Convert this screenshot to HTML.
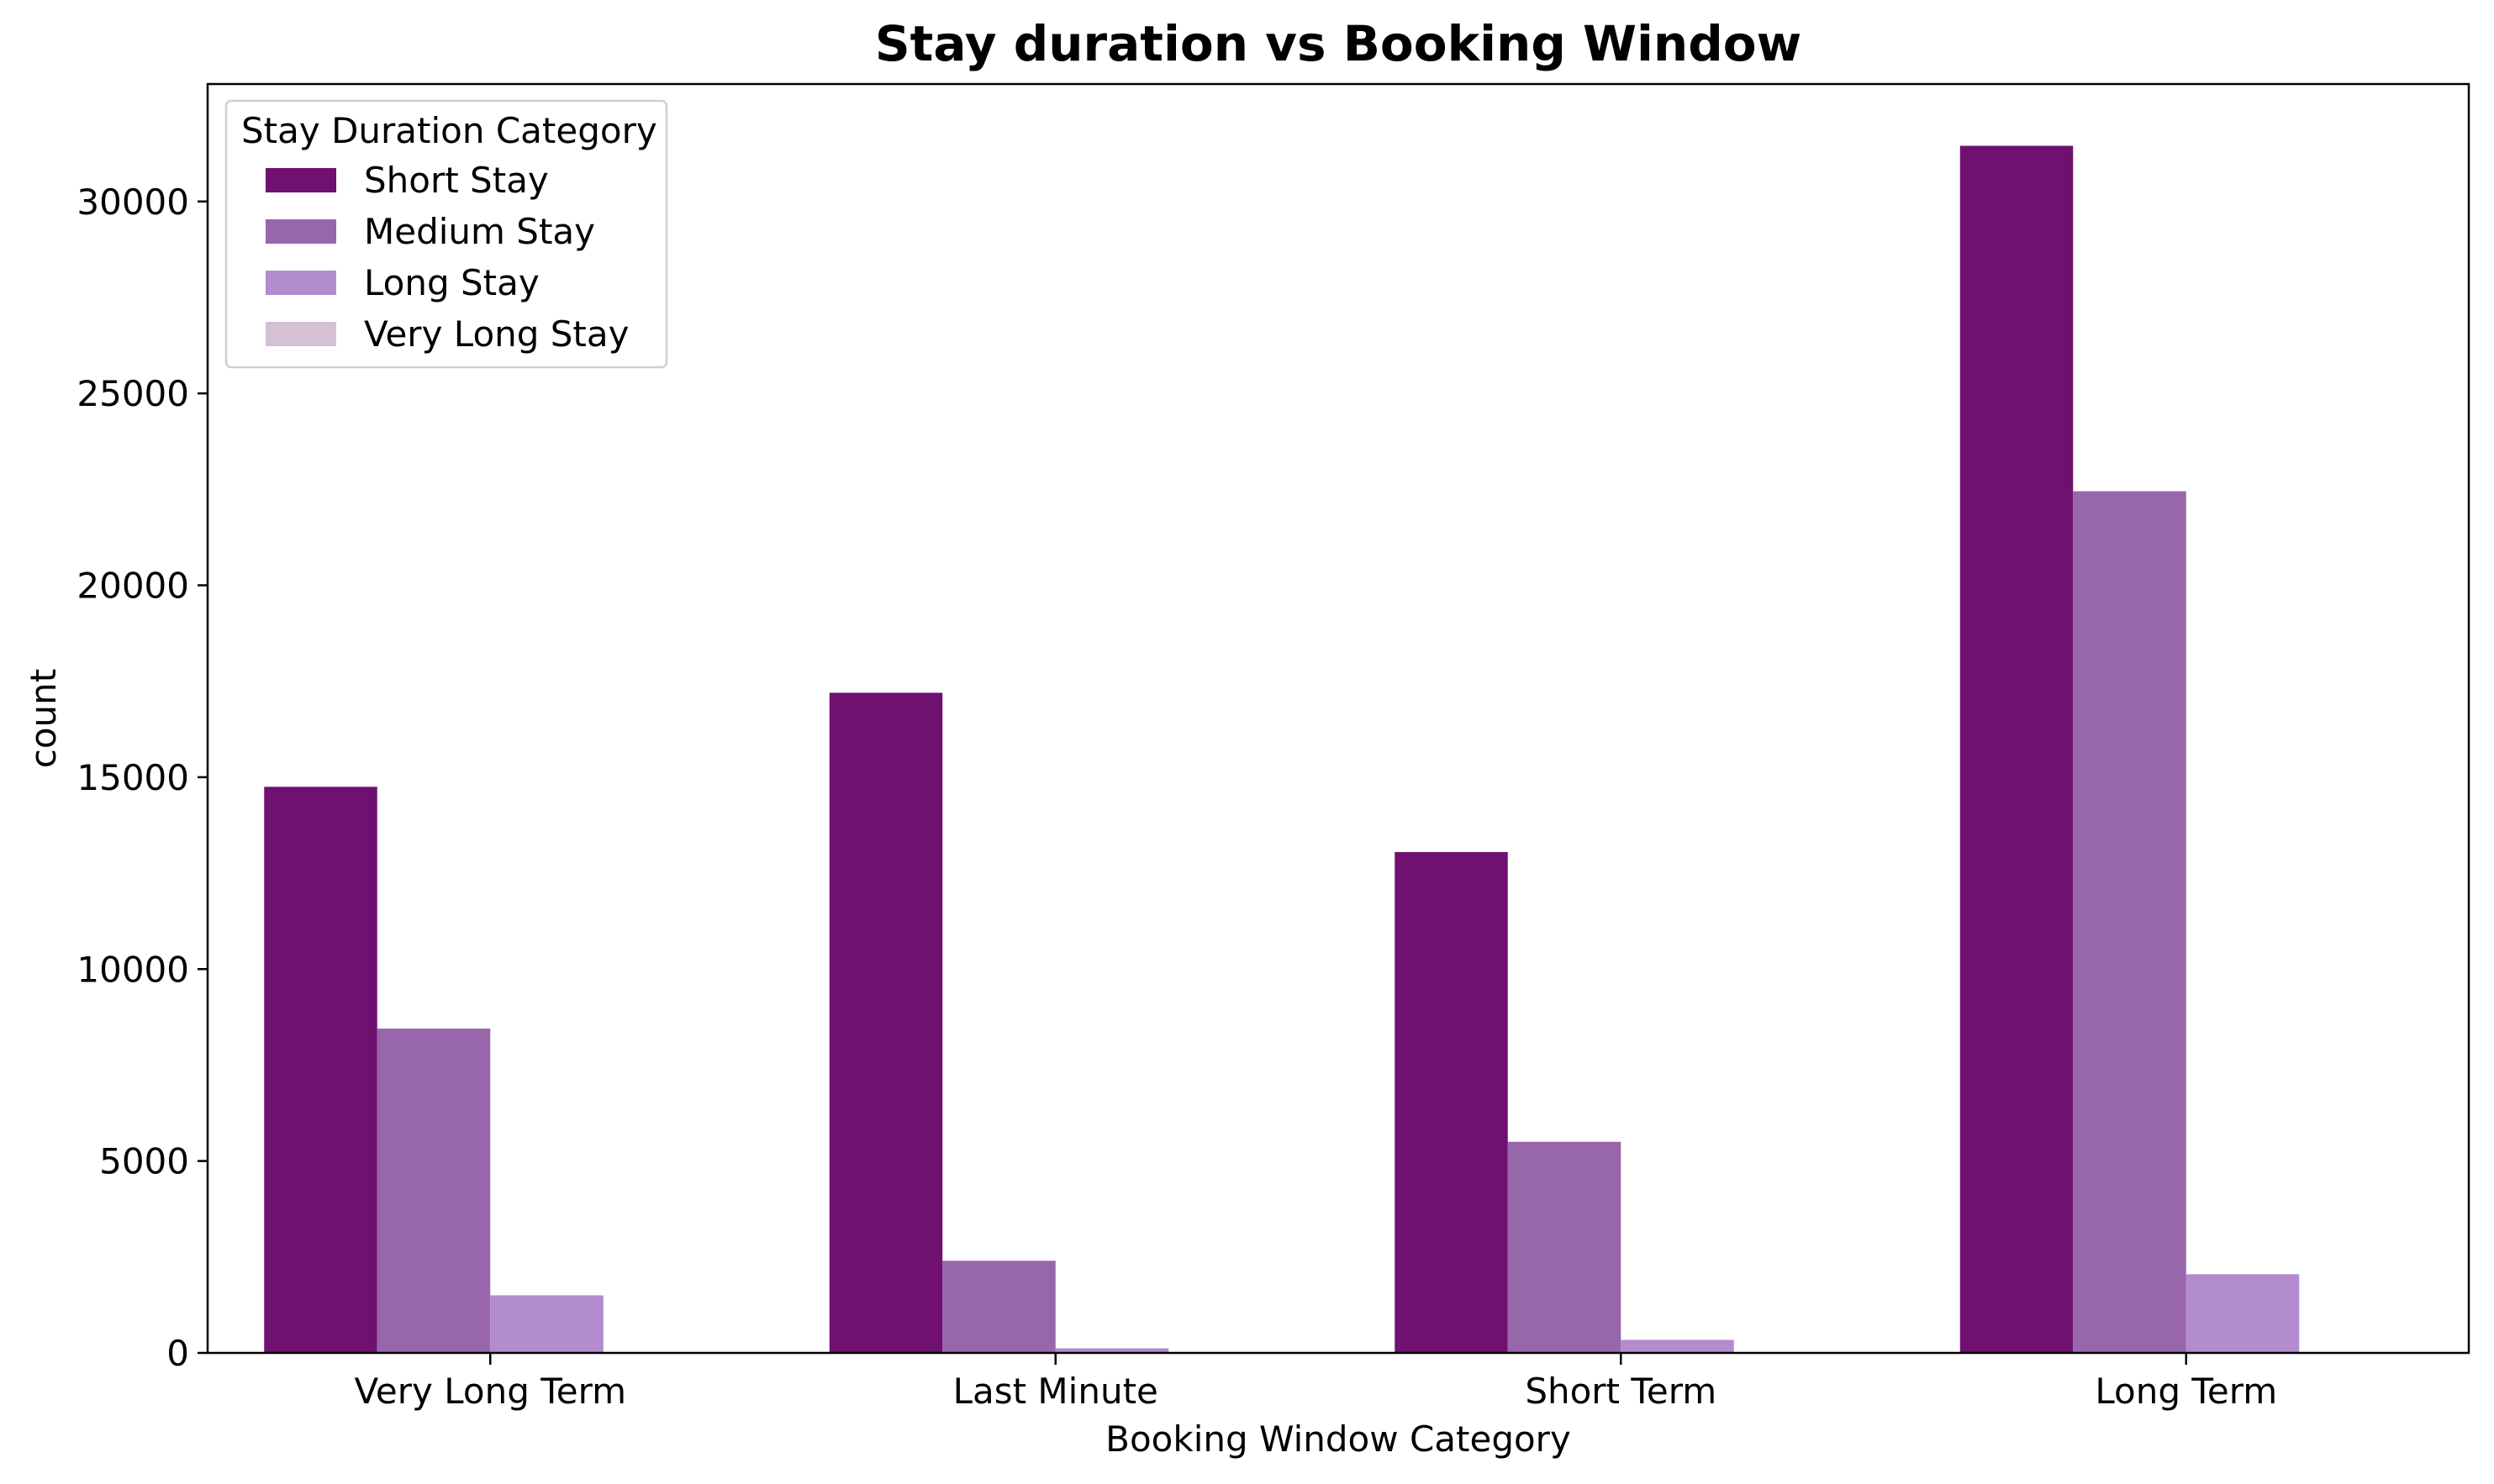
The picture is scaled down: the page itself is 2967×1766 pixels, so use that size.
<!DOCTYPE html>
<html><head><meta charset="utf-8"><style>
html,body{margin:0;padding:0;background:#fff;}
svg{display:block;font-family:"DejaVu Sans","Liberation Sans",sans-serif;}
</style></head><body>
<svg id="chart" width="2967" height="1766" viewBox="0 0 2967 1766" xmlns="http://www.w3.org/2000/svg">
<rect width="2967" height="1766" fill="#fff"/>
<text x="1592" y="72" text-anchor="middle" font-size="58" font-weight="bold">Stay duration vs Booking Window</text>
<g id="bars"></g>
<g id="axes"></g>
<text transform="translate(66,855) rotate(-90)" text-anchor="middle" font-size="42">count</text>
<text x="1592" y="1727" text-anchor="middle" font-size="42">Booking Window Category</text>
<g id="legend"></g>
</svg>
<script>
const categories = ["Very Long Term","Last Minute","Short Term","Long Term"];
const seriesNames = ["Short Stay","Medium Stay","Long Stay","Very Long Stay"];
const shortStay = [14750,17200,13050,31450];
const mediumStay = [8450,2400,5500,22450];
const longStay = [1500,120,340,2050];
const veryLongStay = [0,0,0,0];
const yTicks = [0,5000,10000,15000,20000,25000,30000];
const colors = ["#701070","#9866aa","#b38bcf","#d5c0d5"];
const series = [shortStay,mediumStay,longStay,veryLongStay];

const L=247,R=2937,T=100,B=1610,YMAX=33060;
const NS="http://www.w3.org/2000/svg";
function y(v){return B-(v/YMAX)*(B-T);}
function xc(i){return L+(i+0.5)*(R-L)/categories.length;}
const catW=(R-L)/categories.length, barW=catW*0.8/series.length;
function mk(tag,attrs,parent){const e=document.createElementNS(NS,tag);for(const k in attrs)e.setAttribute(k,attrs[k]);parent.appendChild(e);return e;}
const gb=document.getElementById('bars');
series.forEach((s,si)=>{s.forEach((v,ci)=>{
  const x0=xc(ci)-catW*0.4+si*barW;
  const r=mk('rect',{x:x0,y:y(v),width:barW,height:B-y(v),fill:colors[si]},gb);
  
  
});});
const ga=document.getElementById('axes');
yTicks.forEach(t=>{
  const l=mk('line',{x1:L-12,x2:L,y1:y(t),y2:y(t),stroke:'#000','stroke-width':2.5},ga);
  
  
  const tx=mk('text',{x:L-22,y:y(t)+15,'text-anchor':'end','font-size':'42'},ga);
  tx.textContent=t;
  
  
});
categories.forEach((c,i)=>{
  const l=mk('line',{x1:xc(i),x2:xc(i),y1:B,y2:B+14,stroke:'#000','stroke-width':2.5},ga);
  
  
  const tx=mk('text',{x:xc(i),y:B+60,'text-anchor':'middle','font-size':'42'},ga);
  tx.textContent=c;
  
  
});
const frame=mk('rect',{x:L,y:T,width:R-L,height:B-T,fill:'none',stroke:'#000','stroke-width':2.5},ga);


const lg=document.getElementById('legend');
const box=mk('rect',{x:269,y:120,width:524,height:317,rx:6,fill:'#fff','fill-opacity':0.85,stroke:'#d0d0d0','stroke-width':2.5},lg);


const lt=mk('text',{x:287,y:170,'font-size':'42'},lg);
lt.textContent='Stay Duration Category';


seriesNames.forEach((n,i)=>{
  const cy=214+i*61;
  const p=mk('rect',{x:316,y:cy-14,width:84,height:29,fill:colors[i]},lg);
  
  
  const t=mk('text',{x:433,y:cy+15,'font-size':'42'},lg);
  t.textContent=n;
  
  
});
</script>
</body></html>
